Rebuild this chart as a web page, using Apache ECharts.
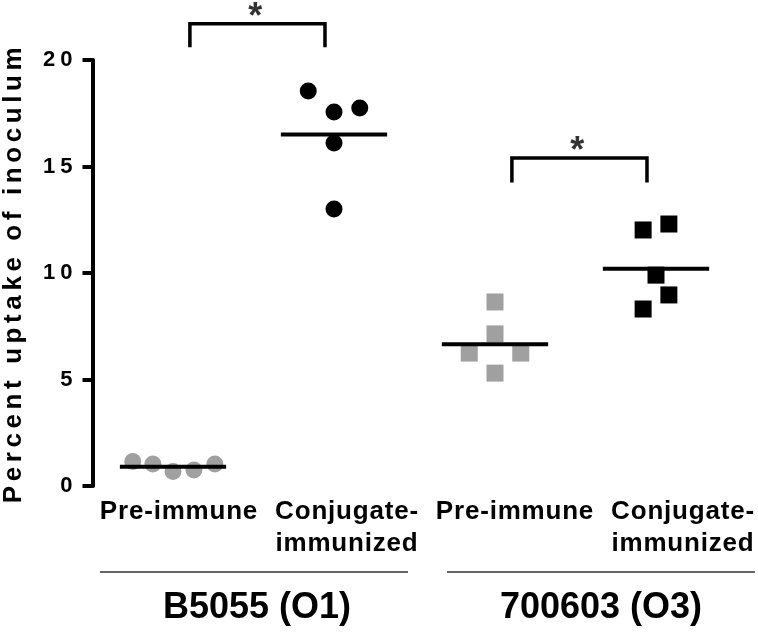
<!DOCTYPE html>
<html><head><meta charset="utf-8">
<script src="https://cdn.jsdelivr.net/npm/echarts@6/dist/echarts.min.js"></script>
<style>html,body{margin:0;padding:0;background:#fff}#c{width:758px;height:634px}</style>
</head><body><div id="c"></div>
<script>
// ---- data ----
const categories = ['Pre-immune', 'Conjugate-\nimmunized', 'Pre-immune', 'Conjugate-\nimmunized'];
const strainGroups = ['B5055 (O1)', '700603 (O3)'];
const yTicks = [0, 5, 10, 15, 20];
const yTitle = 'Percent uptake of inoculum';
const preO1 = [1.15, 1.03, 0.68, 0.75, 1.03];
const conjO1 = [18.54, 17.56, 17.75, 16.1, 13.0];
const preO3 = [8.64, 7.14, 6.24, 6.24, 5.3];
const conjO3 = [12.02, 12.3, 9.9, 8.97, 8.31];
const jitterPreO1 = [-0.25, -0.125, 0, 0.13, 0.26];
const jitterConjO1 = [-0.16, 0, 0.16, 0, 0];
const jitterPreO3 = [0, 0, -0.16, 0.16, 0];
const jitterConjO3 = [-0.08, 0.08, 0, 0.08, -0.08];
const groupMeans = [0.9, 16.5, 6.65, 10.2];
const sigFrom = [1.105, 3.105];
const sigTo = [1.944, 3.944];
const sigTop = [21.7, 15.4];
const sigBottom = [20.6, 14.25];
const sigStarY = [21.95, 15.7];
const sigMark = ['*', '*'];

const FONT = '"Liberation Sans", Arial, sans-serif';
const GRAY = '#a0a0a0';

// letter spacing used by the original figure for some texts
const tickStrs = yTicks.map(String);
const catLines = [];
categories.forEach(c => c.split('\n').forEach(s => catLines.push(s)));
function spacingFor(s) {
  if (s === yTitle) return '4.6px';
  if (tickStrs.includes(s)) return '5px';
  if (catLines.includes(s)) return '0.8px';
  return null;
}
(function () {
  const P = CanvasRenderingContext2D.prototype;
  const origFill = P.fillText;
  P.fillText = function (text, x, y, mw) {
    const ls = spacingFor(String(text));
    if (ls && 'letterSpacing' in this) {
      const prev = this.letterSpacing;
      this.letterSpacing = ls;
      const r = mw === undefined ? origFill.call(this, text, x, y) : origFill.call(this, text, x, y, mw);
      this.letterSpacing = prev;
      return r;
    }
    return origFill.apply(this, arguments);
  };
})();

const groups = [
  {vals: preO1, jit: jitterPreO1, sym: 'circle', color: GRAY},
  {vals: conjO1, jit: jitterConjO1, sym: 'circle', color: '#000'},
  {vals: preO3, jit: jitterPreO3, sym: 'rect', color: GRAY},
  {vals: conjO3, jit: jitterConjO3, sym: 'rect', color: '#000'}
];

const series = [];
groups.forEach((g, gi) => {
  const pos = gi + 1;
  series.push({
    type: 'scatter', xAxisIndex: 0, yAxisIndex: 0, symbol: g.sym, symbolSize: 17,
    itemStyle: {color: g.color, opacity: 1}, z: 2, silent: true,
    data: g.vals.map((v, i) => [pos + g.jit[i], v])
  });
  series.push({
    type: 'line', xAxisIndex: 0, yAxisIndex: 0, symbol: 'none', silent: true, z: 3,
    lineStyle: {color: '#000', width: 4, cap: 'butt'},
    data: [[pos - 0.33, groupMeans[gi]], [pos + 0.33, groupMeans[gi]]]
  });
});
sigFrom.forEach((x1, i) => {
  const x2 = sigTo[i];
  series.push({
    type: 'line', xAxisIndex: 0, yAxisIndex: 0, symbol: 'none', clip: false, silent: true, z: 3,
    lineStyle: {color: '#000', width: 3.5, cap: 'butt', join: 'miter'},
    data: [[x1, sigBottom[i]], [x1, sigTop[i]], [x2, sigTop[i]], [x2, sigBottom[i]]]
  });
  series.push({
    type: 'scatter', xAxisIndex: 0, yAxisIndex: 0, symbol: 'circle', symbolSize: 1, clip: false, silent: true,
    itemStyle: {color: 'rgba(0,0,0,0)'},
    label: {show: true, position: 'inside', formatter: sigMark[i], fontSize: 36, fontWeight: 'bold', color: '#000', fontFamily: FONT},
    data: [[(x1 + x2) / 2, sigStarY[i]]]
  });
});

const chart = echarts.init(document.getElementById('c'), null, {renderer: 'canvas'});
chart.setOption({
  animation: false,
  backgroundColor: '#fff',
  textStyle: {fontFamily: FONT},
  grid: [
    {left: 92.5, right: 21.5, top: 60, bottom: 148, containLabel: false, outerBoundsMode: 'none'},
    {left: 95, right: -9, top: 60, bottom: 148, containLabel: false, outerBoundsMode: 'none'}
  ],
  xAxis: [
    {type: 'value', gridIndex: 0, min: 0.5, max: 4.5, show: false},
    {type: 'category', gridIndex: 1, data: categories,
     axisLine: {show: false}, axisTick: {show: false}, splitLine: {show: false},
     axisLabel: {interval: 0, fontSize: 26, fontWeight: 'bold', color: '#000', lineHeight: 32, margin: 10, fontFamily: FONT}}
  ],
  yAxis: [
    {type: 'value', gridIndex: 0, min: 0, max: 20, interval: 5,
     axisLine: {show: true, lineStyle: {color: '#000', width: 4}},
     axisTick: {show: true, length: 10, lineStyle: {color: '#000', width: 4}},
     axisLabel: {fontSize: 22, fontWeight: 'bold', color: '#000', margin: 15, fontFamily: FONT},
     splitLine: {show: false},
     name: yTitle, nameLocation: 'middle', nameGap: 66,
     nameTextStyle: {fontSize: 26, fontWeight: 'bold', color: '#000', fontFamily: FONT}},
    {type: 'value', gridIndex: 1, min: 0, max: 20, show: false}
  ],
  graphic: [
    {type: 'line', shape: {x1: 100, y1: 572, x2: 408, y2: 572}, style: {stroke: '#333', lineWidth: 1.5}, silent: true},
    {type: 'line', shape: {x1: 447, y1: 572, x2: 755, y2: 572}, style: {stroke: '#333', lineWidth: 1.5}, silent: true},
    {type: 'text', x: 257, y: 608, silent: true,
     style: {text: strainGroups[0], fill: '#000', font: 'bold 36px ' + FONT, textAlign: 'center', textVerticalAlign: 'middle'}},
    {type: 'text', x: 601, y: 608, silent: true,
     style: {text: strainGroups[1], fill: '#000', font: 'bold 36px ' + FONT, textAlign: 'center', textVerticalAlign: 'middle'}}
  ],
  series: series
});
</script>
</body></html>
